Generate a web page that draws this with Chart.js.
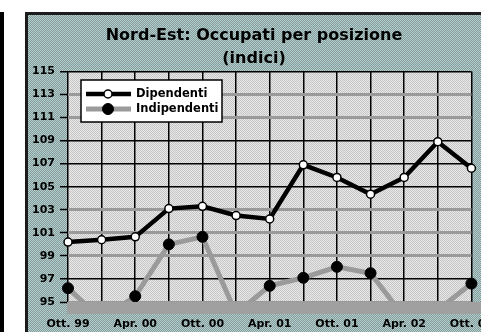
<!DOCTYPE html>
<html>
<head>
<meta charset="utf-8">
<script src="https://cdn.jsdelivr.net/npm/chart.js@4"></script>
<style>
  html, body { margin: 0; padding: 0; background: #fff; width: 481px; height: 332px; overflow: hidden; }
  #bar { position: absolute; left: 0; top: 12px; width: 4px; height: 330px; background: #000; }
  #frame { position: absolute; left: 25px; top: 12px; border: 3px solid #1c1c1c; }
  canvas { display: block; }
</style>
</head>
<body>
<div id="bar"></div>
<div id="frame"><canvas id="chart" width="481" height="330"></canvas></div>
<script>
// trimestri
const periodi = ['Ott. 99', 'Gen. 00', 'Apr. 00', 'Lug. 00', 'Ott. 00', 'Gen. 01', 'Apr. 01',
                 'Lug. 01', 'Ott. 01', 'Gen. 02', 'Apr. 02', 'Lug. 02', 'Ott. 02'];
const dipendenti = [100.2, 100.4, 100.65, 103.1, 103.3, 102.5, 102.2, 106.9, 105.8, 104.35, 105.8, 108.9, 106.6];
const indipendenti = [96.2, 93.5, 95.5, 100.0, 100.65, 94.0, 96.4, 97.1, 98.05, 97.5, 93.7, 94.3, 96.6];
const yMin = 95, yMax = 115, yStep = 2;

// righe orizzontali grigie
const righeGrigie = [113, 111, 103, 101, 99, 95];

function pattern(c1, c2) {
	let p = document.createElement('canvas');
	p.width = 2; p.height = 2;
	let g = p.getContext('2d');
	g.fillStyle = c1; g.fillRect(0, 0, 2, 2);
	g.fillStyle = c2; g.fillRect(1, 0, 1, 1); g.fillRect(0, 1, 1, 1);
	return g.createPattern(p, 'repeat');
}

const sfondo = {
	id: 'sfondo',
	beforeDraw(chart) {
		let c = chart.ctx, a = chart.chartArea;
		c.save();
		c.fillStyle = pattern('#8c9797', '#acd2d2');
		c.fillRect(0, 0, chart.width, chart.height);
		c.fillStyle = pattern('#e8e8e8', '#c6c6c6');
		c.fillRect(a.left, a.top, a.right - a.left, a.bottom - a.top);
		c.restore();
	},
	beforeDatasetsDraw(chart) {
		// asse inferiore spesso
		let c = chart.ctx, a = chart.chartArea;
		c.save();
		c.fillStyle = '#a0a0a0';
		c.fillRect(a.left - 1, a.bottom, chart.width - a.left + 1, 12);
		c.restore();
	}
};

const legenda = {
	id: 'legenda',
	afterDraw(chart) {
		let c = chart.ctx;
		let x = 53, y = 65, w = 141, h = 42;
		c.save();
		c.fillStyle = '#fff';
		c.fillRect(x, y, w, h);
		c.strokeStyle = '#000';
		c.lineWidth = 1.5;
		c.strokeRect(x, y, w, h);
		chart.data.datasets.forEach(function(ds, i) {
			let ry = y + 14 + i * 15;
			c.strokeStyle = ds.borderColor;
			c.lineWidth = ds.borderWidth;
			c.beginPath();
			c.moveTo(x + 5, ry);
			c.lineTo(x + 50, ry);
			c.stroke();
			c.beginPath();
			c.arc(x + 27, ry, ds.pointRadius, 0, Math.PI * 2);
			c.fillStyle = ds.pointBackgroundColor;
			c.fill();
			c.lineWidth = ds.pointBorderWidth;
			c.strokeStyle = ds.pointBorderColor;
			c.stroke();
			c.fillStyle = '#000';
			c.font = 'bold 11.5px "DejaVu Sans"';
			c.textBaseline = 'middle';
			c.fillText(ds.label, x + 55, ry);
		});
		c.restore();
	}
};

const ctx = document.getElementById('chart').getContext('2d');

let grafico = new Chart(ctx, {
	type: 'line',
	data: {
		labels: periodi,
		datasets: [{
			label: 'Dipendenti',
			data: dipendenti,
			borderColor: '#000',
			borderWidth: 4.5,
			pointRadius: 4,
			pointBackgroundColor: '#fff',
			pointBorderColor: '#000',
			pointBorderWidth: 1.5,
			tension: 0,
			clip: { left: 6, top: 6, right: 10, bottom: 0 }
		}, {
			label: 'Indipendenti',
			data: indipendenti,
			borderColor: '#9a9a9a',
			borderWidth: 5,
			pointRadius: 5.5,
			pointBackgroundColor: '#000',
			pointBorderColor: '#000',
			pointBorderWidth: 1,
			tension: 0,
			clip: { left: 6, top: 6, right: 10, bottom: 0 }
		}]
	},
	options: {
		responsive: false,
		animation: false,
		layout: { padding: { right: 29 } },
		plugins: {
			legend: { display: false },
			tooltip: { enabled: false },
			title: {
				display: true,
				text: 'Nord-Est: Occupati per posizione',
				color: '#000',
				font: { family: 'DejaVu Sans', size: 16, weight: 'bold', lineHeight: 1.2 },
				padding: { top: 11, bottom: 0 }
			},
			subtitle: {
				display: true,
				text: '(indici)',
				color: '#000',
				font: { family: 'DejaVu Sans', size: 16, weight: 'bold', lineHeight: 1.2 },
				padding: { top: 4, bottom: 3 }
			}
		},
		scales: {
			x: {
				afterFit: function(s) { s.height = 43; },
				border: { display: false },
				grid: { color: '#000', lineWidth: 1.5, drawTicks: false },
				ticks: {
					autoSkip: false,
					maxRotation: 0,
					padding: 16,
					color: '#000',
					font: { family: 'DejaVu Sans', size: 11, weight: 'bold' },
					callback: function(v, i) { return i % 2 === 0 ? this.getLabelForValue(v) : ''; }
				}
			},
			y: {
				min: yMin,
				max: yMax,
				afterFit: function(s) { s.width = 40; },
				border: { display: false },
				grid: {
					color: function(c) { return righeGrigie.includes(c.tick.value) ? '#9a9a9a' : '#000'; },
					lineWidth: function(c) { return righeGrigie.includes(c.tick.value) ? 3 : 1.5; },
					tickColor: '#000',
					tickWidth: 1.5,
					tickLength: 8
				},
				ticks: {
					stepSize: yStep,
					padding: 5,
					color: '#000',
					font: { family: 'DejaVu Sans', size: 11, weight: 'bold' }
				}
			}
		}
	},
	plugins: [sfondo, legenda]
});
</script>
</body>
</html>
